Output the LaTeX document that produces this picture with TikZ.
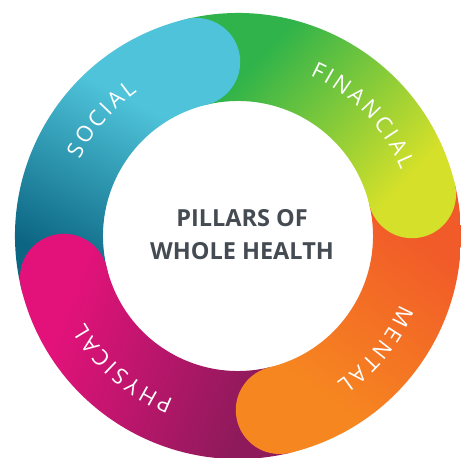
\documentclass[tikz,border=0pt]{standalone}
\usepackage{fontspec}
\setmainfont{Open Sans}
\usetikzlibrary{calc}

\definecolor{socLight}{HTML}{4EC3D9}
\definecolor{socDark}{HTML}{0C6683}
\definecolor{finGreen}{HTML}{2FB34A}
\definecolor{finYellow}{HTML}{D4E02A}
\definecolor{menRed}{HTML}{F15A29}
\definecolor{menOrange}{HTML}{F68620}
\definecolor{phyPink}{HTML}{E2127A}
\definecolor{phyPlum}{HTML}{8E1A5B}
\definecolor{titleGray}{HTML}{454B52}

% ring geometry (pt)
\def\Rout{223}
\def\Rin{135}
\def\Rmid{179}
\def\Rcap{44}

% annular sector between two angles
\newcommand\sectorpath[2]{($(C)+(#1:\Rout pt)$) arc[start angle=#1,end angle=#2,radius=\Rout pt]
  -- ($(C)+(#2:\Rin pt)$) arc[start angle=#2,end angle=#1,radius=\Rin pt] -- cycle}

% a linear shading running from point (#2,#3) in colour #6 to (#4,#5) in colour #7
\newcommand\bandshade[7]{%
  \pgfmathsetmacro\gend{600+veclen(#4-#2,#5-#3)}%
  \pgfmathsetmacro\gfar{\gend+600}%
  \pgfmathsetmacro\gang{atan2(#5-#3,#4-#2)}%
  \expandafter\xdef\csname bandang@#1\endcsname{\gang}%
  \expandafter\xdef\csname bandorg@#1\endcsname{#2pt,#3pt}%
  \edef\gtmp{\noexpand\pgfdeclarehorizontalshading{#1}{1200pt}{%
    color(0pt)=(#6); color(600pt)=(#6); color(\gend pt)=(#7); color(\gfar pt)=(#7)}}%
  \gtmp}

\bandshade{social}{150}{348}{70}{193}{socLight}{socDark}
\bandshade{financial}{265}{408}{405}{278}{finGreen}{finYellow}
\bandshade{mental}{440}{208}{330}{58}{menRed}{menOrange}
\bandshade{physical}{60}{128}{250}{58}{phyPink}{phyPlum}

% paint the current clip area with a band's shading
\newcommand\paintband[1]{%
  \edef\gorg{\csname bandorg@#1\endcsname}%
  \edef\gang{\csname bandang@#1\endcsname}%
  \begin{scope}[transform canvas={shift={(\gorg)}, rotate=\gang}]
    \node[inner sep=0pt, outer sep=0pt, anchor=west] (paint-#1) at (-600pt,0pt) {\pgfuseshading{#1}};
  \end{scope}}

% letter widths, measured once before the picture
\newcommand\labelfont{\fontsize{22}{22}\selectfont}
\def\trk{3.0}
\newlength\chw
\makeatletter
\let\stripdim\strip@pt
\makeatother
\newcommand\measureletters[1]{%
  \foreach \ch in {#1}{%
    \settowidth\chw{\labelfont\ch}%
    \expandafter\xdef\csname lw@\ch\endcsname{\stripdim\chw}}}

% letters set one by one along the ring, reading clockwise, tops outward
\newcommand\ringword[4]{% #1 name, #2 centre angle, #3 baseline radius, #4 letters
  \gdef\wsum{0}%
  \foreach \ch in {#4}{%
    \pgfmathparse{\wsum+\csname lw@\ch\endcsname+\trk}\xdef\wsum{\pgfmathresult}}%
  \pgfmathparse{#2+deg((\wsum-\trk)/2/#3)}\xdef\acur{\pgfmathresult}%
  \foreach \ch [count=\k] in {#4}{%
    \edef\cw{\csname lw@\ch\endcsname}%
    \pgfmathsetmacro\amid{\acur-deg(\cw/2/#3)}%
    \node[lettr, rotate=\amid-90] (#1-\k) at ($(C)+(\amid:#3pt)$) {\ch};
    \pgfmathparse{\acur-deg((\cw+\trk)/#3)}\xdef\acur{\pgfmathresult}}%
}

\begin{document}
\measureletters{S,O,C,I,A,L,F,N,M,E,T,P,H,Y}%
\begin{tikzpicture}[x=1pt,y=1pt,
  lettr/.style={text=white, font=\labelfont, inner sep=0pt, anchor=base},
  title/.style={text=titleGray, align=center, inner sep=0pt,
    font=\bfseries\fontsize{23.5}{33}\selectfont}]
\fill[white] (0,0) rectangle (461,458);
\useasboundingbox (0,0) rectangle (461,458);
\coordinate (C) at (238,222);

% the four bands
\begin{scope}\clip \sectorpath{193.5}{103.5}; \paintband{social} \end{scope}
\begin{scope}\clip \sectorpath{103.5}{13.5}; \paintband{financial} \end{scope}
\begin{scope}\clip \sectorpath{13.5}{-76.5}; \paintband{mental} \end{scope}
\begin{scope}\clip \sectorpath{-76.5}{-166.5}; \paintband{physical} \end{scope}

% rounded heads lying over the next band
\begin{scope}\clip ($(C)+(103.5:\Rmid pt)$) circle[radius=\Rcap pt]; \paintband{social} \end{scope}
\begin{scope}\clip ($(C)+(13.5:\Rmid pt)$) circle[radius=\Rcap pt]; \paintband{financial} \end{scope}
\begin{scope}\clip ($(C)+(-76.5:\Rmid pt)$) circle[radius=\Rcap pt]; \paintband{mental} \end{scope}
\begin{scope}\clip ($(C)+(-166.5:\Rmid pt)$) circle[radius=\Rcap pt]; \paintband{physical} \end{scope}

% band labels
\ringword{social}{139.5}{176}{S,O,C,I,A,L}
\ringword{financial}{44}{176}{F,I,N,A,N,C,I,A,L}
\ringword{mental}{-39.5}{176}{M,E,N,T,A,L}
\ringword{physical}{-131}{176}{P,H,Y,S,I,C,A,L}

% centre title
\node[title] (heading) at (242,223.5) {PILLARS OF\\WHOLE HEALTH};
\end{tikzpicture}
\end{document}
